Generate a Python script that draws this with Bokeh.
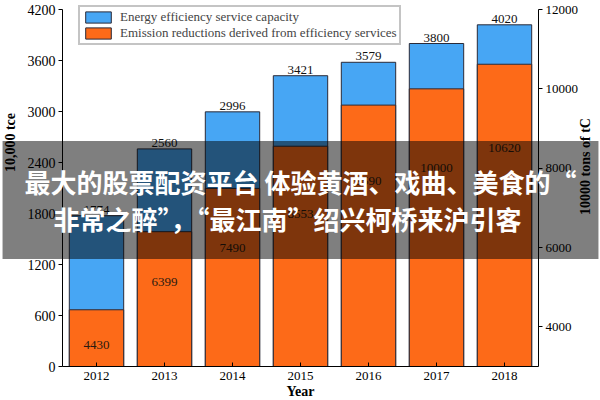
from math import pi
from bokeh.plotting import figure
from bokeh.models import (Range1d, LinearAxis, FixedTicker, Label, Legend,
                          LegendItem, ColumnDataSource)
from bokeh.core.properties import value
from bokeh.embed import file_html
from bokeh.resources import INLINE

# ---- data ----
years = [2012, 2013, 2014, 2015, 2016, 2017, 2018]
capacity = [1774, 2560, 2996, 3421, 3579, 3800, 4020]          # 10,000 tce (left axis)
reductions = [4430, 6399, 7490, 8553, 9590, 10000, 10620]       # 10000 tons of tC (right axis)
left_ticks = [0, 600, 1200, 1800, 2400, 3000, 3600, 4200]
right_ticks = [4000, 6000, 8000, 10000, 12000]
series_names = ["Energy efficiency service capacity",
                "Emission reductions derived from efficiency services"]
banner_lines = ["最大的股票配资平台 体验黄酒、戏曲、美食的“",
                "非常之醉”，“最江南”绍兴柯桥来沪引客"]

LEFT_RANGE = (0, 4200)
RIGHT_RANGE = (3000, 12000)

BLUE = "#47A6F4"
ORANGE = "#FD6A18"
EDGE = "#2a2a38"
FONT = "Liberation Serif"

# canvas layout (pixels): axes box inside the full canvas
W, H = 600, 400
AL, AR, AT, AB = 62, 538, 9, 366
XA0, XA1 = years[0] - 0.5, years[-1] + 0.5
xpp = (XA1 - XA0) / (AR - AL)                       # x units per px
ypp = (LEFT_RANGE[1] - LEFT_RANGE[0]) / (AB - AT)   # left units per px
rpp = (RIGHT_RANGE[1] - RIGHT_RANGE[0]) / (AB - AT) # right units per px

def px_to_y(py):
    return LEFT_RANGE[0] + (AB - py) * ypp

def px_to_x(px):
    return XA0 + (px - AL) * xpp

src = ColumnDataSource(dict(
    year=years,
    cap=capacity,
    red=reductions,
    cap_txt=[str(v) for v in capacity],
    red_txt=[str(v) for v in reductions],
    red_lbl=[0.8 * v for v in reductions],
))

p = figure(width=W, height=H,
           x_range=Range1d(XA0 - AL * xpp, XA1 + (W - AR) * xpp),
           y_range=Range1d(LEFT_RANGE[0] - (H - AB) * ypp, LEFT_RANGE[1] + AT * ypp),
           output_backend="svg", toolbar_location=None,
           min_border_left=0, min_border_right=0,
           min_border_top=0, min_border_bottom=0)
p.extra_y_ranges = {"right": Range1d(RIGHT_RANGE[0] - (H - AB) * rpp,
                                     RIGHT_RANGE[1] + AT * rpp)}
p.outline_line_color = None
p.xgrid.grid_line_color = None
p.ygrid.grid_line_color = None
p.background_fill_color = "white"
p.border_fill_color = "white"

b = p.vbar(x="year", top="cap", bottom=LEFT_RANGE[0], width=0.8, source=src,
           fill_color=BLUE, line_color=EDGE, line_width=1)
o = p.vbar(x="year", top="red", bottom=RIGHT_RANGE[0], width=0.8, source=src,
           fill_color=ORANGE, line_color=EDGE, line_width=1,
           y_range_name="right")

p.text(x="year", y="cap", text="cap_txt", source=src,
       text_align="center", text_baseline="bottom", y_offset=-2,
       text_font=value(FONT), text_font_size="13px", text_color="#111111")
p.text(x="year", y="red_lbl", text="red_txt", source=src, y_range_name="right",
       text_align="center", text_baseline="middle",
       text_font=value(FONT), text_font_size="13px", text_color="#2a1a10")

# axes (library axes, pinned to the axes box)
for ax in [p.xaxis[0], p.yaxis[0]]:
    ax.axis_line_color = "black"
    ax.major_tick_line_color = "black"
    ax.minor_tick_line_color = None
    ax.major_label_text_font = FONT
    ax.major_label_text_color = "black"

p.xaxis.ticker = FixedTicker(ticks=years)
p.xaxis.fixed_location = LEFT_RANGE[0]
p.xaxis.bounds = (XA0, XA1)
p.xaxis.major_tick_in = 4
p.xaxis.major_tick_out = 0
p.xaxis.major_label_standoff = 5
p.xaxis.major_label_text_font_size = "13px"

p.yaxis.ticker = FixedTicker(ticks=left_ticks)
p.yaxis.fixed_location = XA0
p.yaxis.bounds = LEFT_RANGE
p.yaxis.major_tick_in = 0
p.yaxis.major_tick_out = 4
p.yaxis.major_label_standoff = 3
p.yaxis.major_label_text_font_size = "14px"

rax = LinearAxis(y_range_name="right", ticker=FixedTicker(ticks=right_ticks),
                 fixed_location=XA1, bounds=RIGHT_RANGE)
rax.axis_line_color = "black"
rax.major_tick_line_color = "black"
rax.minor_tick_line_color = None
rax.major_tick_in = 0
rax.major_tick_out = 4
rax.major_label_standoff = 3
rax.major_label_text_font = FONT
rax.major_label_text_font_size = "13px"
rax.major_label_text_color = "black"
p.add_layout(rax, "right")

# legend (location = bottom-left corner, screen px from canvas bottom-left)
LEG_H = 36
legend = Legend(items=[LegendItem(label=series_names[0], renderers=[b]),
                       LegendItem(label=series_names[1], renderers=[o])],
                location=(78, H - 9 - LEG_H), margin=0, padding=2, spacing=0,
                glyph_width=32, glyph_height=14, label_standoff=6,
                label_text_font=FONT, label_text_font_size="13px",
                label_height=14,
                border_line_color="#8a8a8a", border_line_width=2,
                background_fill_color="white", background_fill_alpha=1)
p.add_layout(legend)

# axis titles
p.add_layout(Label(x=px_to_x(10), y=px_to_y(142), angle=pi / 2,
                   text="10,000 tce", text_align="center", text_baseline="middle",
                   text_font=FONT, text_font_style="bold", text_font_size="14px",
                   text_color="black"))
p.add_layout(Label(x=px_to_x(585), y=px_to_y(166), angle=pi / 2,
                   text="10000 tons of tC", text_align="center", text_baseline="middle",
                   text_font=FONT, text_font_style="bold", text_font_size="14px",
                   text_color="black"))
p.add_layout(Label(x=(XA0 + XA1) / 2, y=px_to_y(391),
                   text="Year", text_align="center", text_baseline="middle",
                   text_font=FONT, text_font_style="bold", text_font_size="14px",
                   text_color="black"))

# banner overlay
p.add_layout(Label(x=px_to_x(300), y=px_to_y(199.5),
                   text="\n".join(banner_lines),
                   text_align="center", text_baseline="middle",
                   text_font="Noto Sans CJK SC", text_font_style="bold",
                   text_font_size="26px", text_color="white",
                   text_line_height=1.0,
                   background_fill_color="black", background_fill_alpha=0.5,
                   padding=22))

open("out.html", "w").write(file_html(p, INLINE))
